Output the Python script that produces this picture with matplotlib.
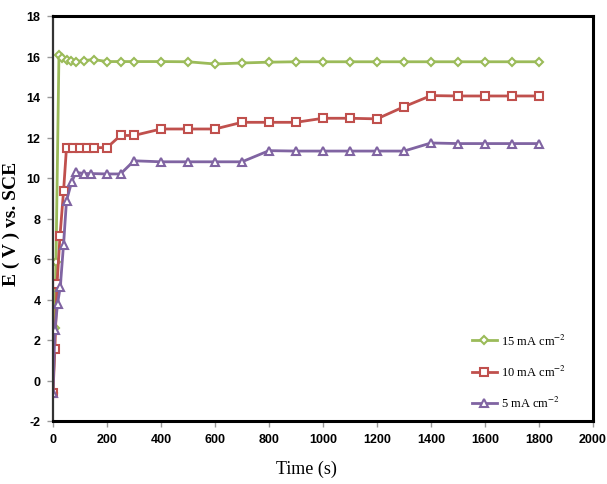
import matplotlib
matplotlib.use('Agg')
import matplotlib.pyplot as plt

plt.rcParams['mathtext.fontset'] = 'stix'
plt.rcParams['axes.unicode_minus'] = False

late_t = [500, 600, 700, 800, 900, 1000, 1100, 1200, 1300, 1400, 1500, 1600, 1700, 1800]

green_t = [0, 7, 11, 22, 35, 50, 65, 85, 115, 150, 200, 250, 300, 400] + late_t
green_v = [-0.6, 2.6, 5.84, 16.05, 15.95, 15.85, 15.8, 15.75, 15.8, 15.85, 15.75, 15.75, 15.75, 15.75,
           15.74, 15.63, 15.68, 15.72, 15.74, 15.74, 15.74, 15.74, 15.74, 15.74, 15.74, 15.74, 15.74, 15.74]

red_t = [0, 7, 15, 26, 39, 50, 75, 100, 125, 150, 200, 250, 300, 400] + late_t
red_v = [-0.6, 1.56, 4.77, 7.15, 9.34, 11.5, 11.5, 11.5, 11.5, 11.5, 11.5, 12.1, 12.1, 12.42,
         12.42, 12.42, 12.75, 12.75, 12.75, 12.95, 12.95, 12.92, 13.52, 14.07, 14.05, 14.05, 14.05, 14.05]

purple_t = [0, 7, 17, 27, 39, 50, 69, 85, 115, 140, 200, 250, 300, 400] + late_t
purple_v = [-0.6, 2.5, 3.8, 4.63, 6.7, 8.88, 9.8, 10.28, 10.22, 10.22, 10.2, 10.2, 10.85, 10.8,
            10.8, 10.8, 10.8, 11.35, 11.33, 11.33, 11.33, 11.33, 11.33, 11.73, 11.7, 11.7, 11.7, 11.7]

series = [
    (green_t, green_v, '15 mA cm$^{-2}$', '#9BBB59', 'D', 4.2),
    (red_t, red_v, '10 mA cm$^{-2}$', '#C0504D', 's', 6),
    (purple_t, purple_v, '5 mA cm$^{-2}$', '#8064A2', '^', 5.2),
]

fig = plt.figure(figsize=(6.07, 4.85), dpi=100)
ax = fig.add_axes([53 / 607, 1 - 422 / 485, 540 / 607, 405 / 485])

for t, v, label, color, marker, ms in series:
    ax.plot(t, v, color=color, linewidth=2, marker=marker, markersize=ms,
            markerfacecolor='white', markeredgecolor=color, markeredgewidth=1.5, label=label)

ax.set_xlim(0, 2000)
ax.set_ylim(-2, 18)
ax.set_xticks(range(0, 2001, 200))
ax.set_yticks(range(-2, 19, 2))

for side in ['top', 'bottom', 'right']:
    ax.spines[side].set_color('black')
    ax.spines[side].set_linewidth(2.2)
ax.spines['left'].set_color('#333333')
ax.spines['left'].set_linewidth(1.6)

ax.tick_params(direction='out', length=4, width=1, color='#999999', pad=5)
for lab in ax.get_xticklabels() + ax.get_yticklabels():
    lab.set_family('Liberation Sans')
    lab.set_fontsize(9)
    lab.set_fontweight('bold')

ax.set_xlabel('Time (s)', family='Liberation Serif', fontsize=13)
ax.xaxis.set_label_coords(0.47, -0.095)
ax.set_ylabel('E ( V ) vs. SCE', family='Liberation Serif', fontsize=14, fontweight='bold')
ax.yaxis.set_label_coords(-0.062, 0.49)

leg = ax.legend(loc='center left', bbox_to_anchor=(0.755, 0.122), frameon=False,
                prop={'family': 'Liberation Serif', 'size': 9}, handlelength=2.0,
                labelspacing=1.3, handletextpad=0.3)

fig.savefig('out.png', dpi=100)
